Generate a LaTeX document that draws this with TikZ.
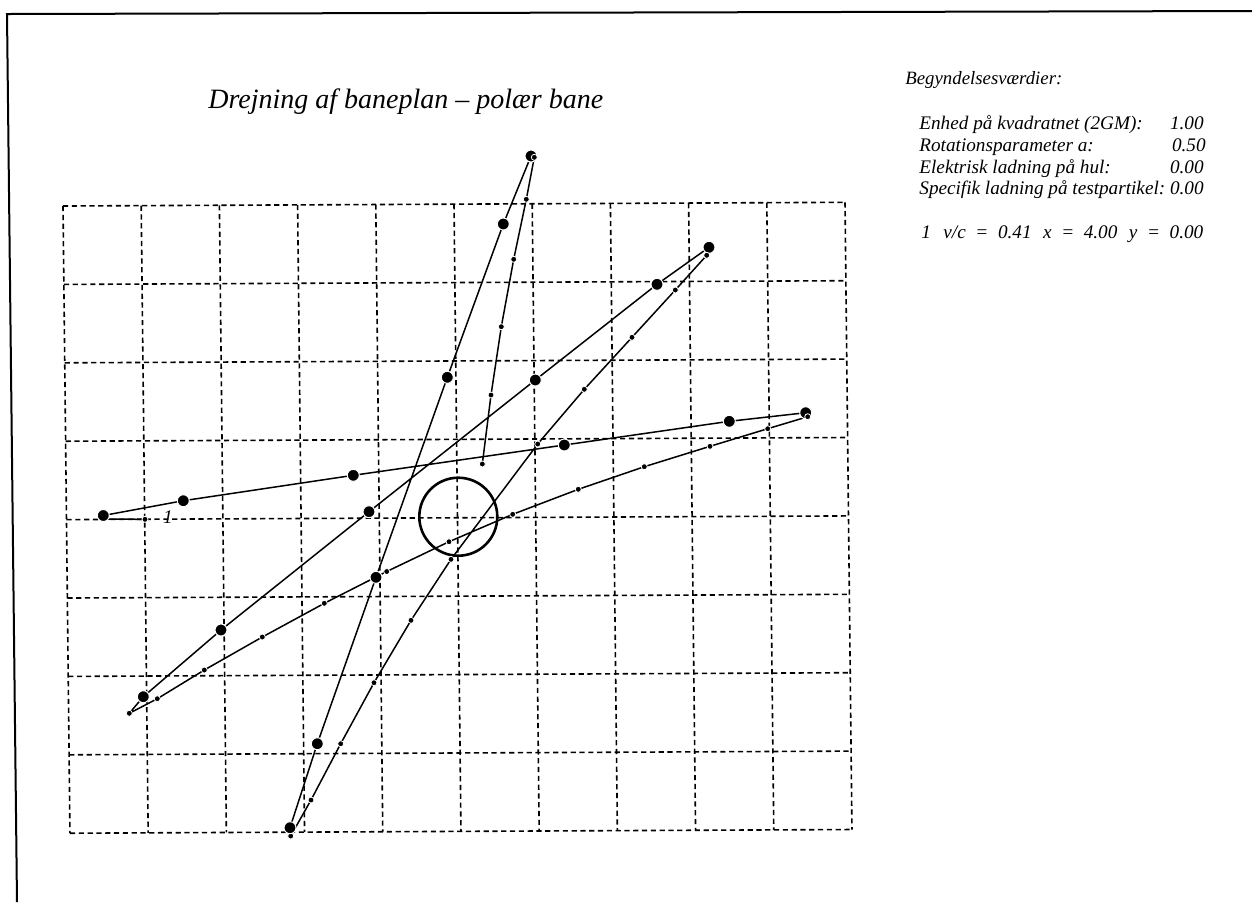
\documentclass[tikz,border=0pt]{standalone}
\usepackage{fontspec}
\setmainfont{Liberation Serif}
\usetikzlibrary{backgrounds}

\begin{document}
\begin{tikzpicture}[x=0.5pt, y=-0.5pt,
    frameline/.style={line width=1pt},
    gridline/.style={line width=0.8pt, dash pattern=on 2.6pt off 1.8pt},
    orbit/.style={line width=0.75pt, line join=round},
    hole/.style={draw, circle, line width=1.3pt, minimum size=39pt, inner sep=0pt},
    bigdot/.style={circle, fill=black, draw=white, line width=0.5pt, inner sep=0pt, minimum size=6pt},
    smalldot/.style={circle, fill=black, draw=white, line width=0.4pt, inner sep=0pt, minimum size=3pt},
    titletext/.style={font=\itshape\fontsize{14}{16}\selectfont, anchor=base west, inner sep=0pt},
    headtext/.style={font=\itshape\fontsize{9.4}{11}\selectfont, anchor=base west, inner sep=0pt},
    infotext/.style={font=\itshape\fontsize{9.6}{11}\selectfont, anchor=base west, inner sep=0pt},
    infovalue/.style={font=\itshape\fontsize{9.6}{11}\selectfont, anchor=base east, inner sep=0pt}
  ]
  \useasboundingbox (0,0) rectangle (1252,902);
  \draw[frameline] (17,902) -- (7,14) -- (1252,11);

  \node[titletext] (title) at (208,108) {Drejning af baneplan – polær bane};

  \node[headtext] (inithead) at (905,84) {Begyndelsesværdier:};
  \node[infotext] (unitlabel) at (919,129) {Enhed på kvadratnet (2GM):};
  \node[infovalue] (unitvalue) at (1204,129) {1.00};
  \node[infotext] (spinlabel) at (919,151) {Rotationsparameter a:};
  \node[infovalue] (spinvalue) at (1206,151) {0.50};
  \node[infotext] (chargelabel) at (919,173) {Elektrisk ladning på hul:};
  \node[infovalue] (chargevalue) at (1204,173) {0.00};
  \node[infotext] (speclabel) at (919,194) {Specifik ladning på testpartikel:};
  \node[infovalue] (specvalue) at (1204,194) {0.00};
  \node[infotext] (startrow) at (921,238) {1\hspace{0.65em}v/c\hspace{0.5em}=\hspace{0.5em}0.41\hspace{0.6em}x\hspace{0.5em}=\hspace{0.5em}4.00\hspace{0.6em}y\hspace{0.5em}=\hspace{0.5em}0.00};

  \node[hole] (blackhole) at (458.3,516.7) {};

  \foreach \px/\py/\kind [count=\k] in {
      103.3/515.5/bigdot, 183.3/500.7/bigdot, 353.3/475.3/bigdot, 564.3/445.0/bigdot, 729.3/421.3/bigdot, 805.7/412.7/bigdot,
      807.7/416.7/smalldot, 767.7/428.7/smalldot, 710.0/446.3/smalldot, 644.3/466.7/smalldot, 578.3/489.3/smalldot,
      512.7/514.3/smalldot, 449.0/541.7/smalldot, 386.7/571.5/smalldot, 324.3/603.3/smalldot, 262.3/637.0/smalldot,
      204.3/670.0/smalldot, 157.3/698.7/smalldot, 129.3/713.3/smalldot,
      143.3/696.7/bigdot, 221.0/630.0/bigdot, 369.0/511.7/bigdot, 535.3/380.0/bigdot, 657.0/284.3/bigdot, 709.0/247.3/bigdot,
      706.7/255.3/smalldot, 675.3/290.0/smalldot, 632.0/337.3/smalldot, 584.3/389.3/smalldot, 537.7/444.0/smalldot,
      451.0/559.3/smalldot, 411.0/620.3/smalldot, 374.0/682.7/smalldot, 340.7/743.7/smalldot, 311.0/800.0/smalldot,
      290.7/836.0/smalldot,
      290.0/827.7/bigdot, 317.3/743.7/bigdot, 376.0/577.3/bigdot, 447.3/377.3/bigdot, 503.3/224.0/bigdot, 531.0/156.0/bigdot,
      534.3/157.3/smalldot, 526.3/199.3/smalldot, 513.7/259.3/smalldot, 501.3/326.7/smalldot, 491.0/395.0/smalldot,
      482.3/464.0/smalldot}
    \node[\kind] (p\k) at (\px,\py) {};

  \coordinate (v0) at (101,519);
  \node[smalldot] (v1) at (145,519.3) {};
  \node[infotext, anchor=center] (startlabel) at (168,517) {1};

  \begin{scope}[on background layer]
    \begin{scope}[shift={(63,206)}, x={(39.1pt,0.185pt)}, y={(0.435pt,-39.2pt)}]
      \foreach \i in {0,...,10}
        \draw[gridline] (\i,0) -- (\i,8);
      \foreach \j in {0,...,8}
        \draw[gridline] (0,\j) -- (10,\j);
    \end{scope}
    \draw[orbit] (p1.center) foreach \k in {2,...,48} {-- (p\k.center)};
    \draw[orbit] (v0) -- (v1.center);
  \end{scope}
\end{tikzpicture}
\end{document}
